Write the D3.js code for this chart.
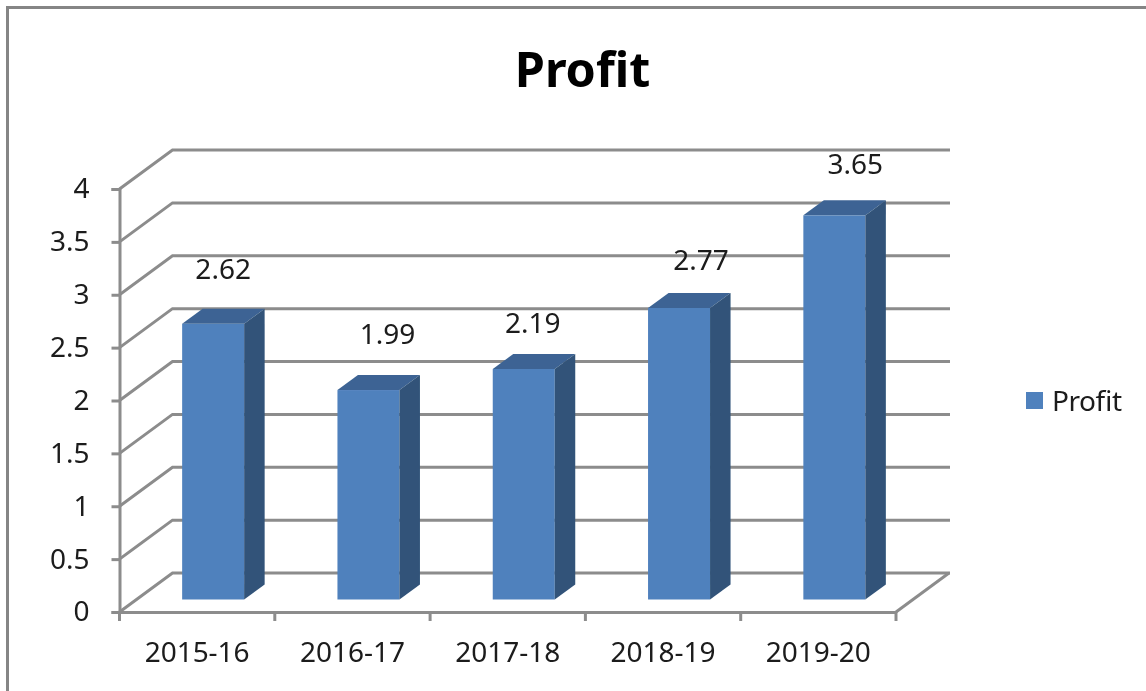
<!DOCTYPE html>
<html>
<head>
<meta charset="utf-8">
<script src="https://cdn.jsdelivr.net/npm/d3@7"></script>
<style>
  html, body { margin: 0; padding: 0; background: #fff; }
  text { font-family: "Noto Sans", sans-serif; fill: #1a1a1a; }
  .domain, .tick line { stroke: #8c8c8c; stroke-width: 3; }
</style>
</head>
<body>
<div id="chart"></div>
<script>
var years = ["2015-16", "2016-17", "2017-18", "2018-19", "2019-20"];
var profit = [2.62, 1.99, 2.19, 2.77, 3.65];
var yTicks = [0, 0.5, 1, 1.5, 2, 2.5, 3, 3.5, 4];
// data labels sit off the bars by hand in the original
var labelDx = [10, 19, 9, 22, 21];
var labelDy = [55, 56, 46, 48, 51];

var width = 1146, height = 691;
var left = 119.5, right = 896, bottom = 612, top_ = 189;
// depth of the 3d floor, and how far in the bars stand
var depth = { x: 53, y: 39 };
var barIn = { x: 16, y: 12.5 };
var barDepth = { x: 20.5, y: 15 };
var barWidth = 62;

var gridColor = "#8c8c8c";

var svg = d3.select("#chart").append("svg")
  .attr("width", width)
  .attr("height", height);

// screenshot frame
svg.append("path")
  .attr("d", "M7.5," + height + "V7.5H" + width)
  .attr("fill", "none")
  .attr("stroke", "#858585")
  .attr("stroke-width", 3);

var x = d3.scaleBand().domain(years).range([left, right]);
var y = d3.scaleLinear().domain([0, 4]).range([bottom, top_]);
// bars stand further back so their scale is a touch shorter than the axis
var barY = d3.scaleLinear().domain([0, 4]).range([bottom - barIn.y, top_ - barIn.y + 2]);

var plot = svg.append("g").attr("filter", "url(#soft)");
var defs = svg.append("defs");
defs.append("filter").attr("id", "soft")
  .append("feGaussianBlur").attr("stdDeviation", 0.45);

// walls: each gridline runs back then across
plot.append("g").selectAll("path")
  .data(yTicks)
  .enter().append("path")
  .attr("d", function (d) {
    return "M" + left + "," + y(d) +
      "L" + (left + depth.x) + "," + (y(d) - depth.y) +
      "H" + (right + depth.x + 1);
  })
  .attr("fill", "none")
  .attr("stroke", gridColor)
  .attr("stroke-width", 3);

// right edge of the floor
plot.append("path")
  .attr("d", "M" + right + "," + bottom + "L" + (right + depth.x) + "," + (bottom - depth.y))
  .attr("fill", "none")
  .attr("stroke", gridColor)
  .attr("stroke-width", 3);

// Axes
var yAxis = plot.append("g")
  .attr("transform", "translate(" + left + ",0)")
  .call(d3.axisLeft(y).tickValues(yTicks).tickFormat(d3.format("")).tickSize(8).tickPadding(22));
yAxis.selectAll("text").style("font-size", "28px");

var xAxis = plot.append("g")
  .attr("transform", "translate(0," + bottom + ")")
  .call(d3.axisBottom(x).tickSize(0).tickSizeOuter(0).tickPadding(30));
xAxis.selectAll("text").style("font-size", "28px").attr("textLength", 105);

// category ticks fall between the bands
xAxis.selectAll(".cat-tick")
  .data(d3.range(years.length + 1))
  .enter().append("line")
  .attr("class", "cat-tick")
  .attr("x1", function (i) { return left + i * x.step(); })
  .attr("x2", function (i) { return left + i * x.step(); })
  .attr("y1", 0)
  .attr("y2", 9)
  .attr("stroke", gridColor)
  .attr("stroke-width", 3);

// Bars
var rows = years.map(function (yr, i) {
  var x0 = x(yr) + x.bandwidth() / 2 + barIn.x - barWidth / 2;
  return {
    year: yr,
    value: profit[i],
    x0: x0,
    x1: x0 + barWidth,
    y0: barY(0),
    y1: barY(profit[i]),
    dx: labelDx[i],
    dy: labelDy[i]
  };
});

var bars = plot.append("g").selectAll("g")
  .data(rows)
  .enter().append("g");

bars.append("rect")
  .attr("x", function (d) { return d.x0; })
  .attr("y", function (d) { return d.y1; })
  .attr("width", barWidth)
  .attr("height", function (d) { return d.y0 - d.y1; })
  .attr("fill", "#4f81bd");

// top face
bars.append("path")
  .attr("d", function (d) {
    return "M" + d.x0 + "," + d.y1 +
      "L" + (d.x0 + barDepth.x) + "," + (d.y1 - barDepth.y) +
      "H" + (d.x1 + barDepth.x) +
      "L" + d.x1 + "," + d.y1 + "Z";
  })
  .attr("fill", "#3c6494");

// side face
bars.append("path")
  .attr("d", function (d) {
    return "M" + d.x1 + "," + d.y1 +
      "L" + (d.x1 + barDepth.x) + "," + (d.y1 - barDepth.y) +
      "V" + (d.y0 - barDepth.y) +
      "L" + d.x1 + "," + d.y0 + "Z";
  })
  .attr("fill", "#315379");

// data labels
plot.append("g").selectAll("text")
  .data(rows)
  .enter().append("text")
  .attr("x", function (d) { return (d.x0 + d.x1) / 2 + d.dx; })
  .attr("y", function (d) { return d.y1 - d.dy; })
  .attr("dy", "0.35em")
  .attr("text-anchor", "middle")
  .style("font-size", "28px")
  .text(function (d) { return d.value; });

// title
plot.append("text")
  .attr("x", 582.5)
  .attr("y", 87)
  .attr("text-anchor", "middle")
  .style("font-size", "48.5px")
  .style("font-weight", "bold")
  .style("fill", "#000")
  .text("Profit");

// legend
var legend = plot.append("g").attr("transform", "translate(1026,392)");
legend.append("rect")
  .attr("width", 17)
  .attr("height", 17)
  .attr("fill", "#4f81bd");
legend.append("text")
  .attr("x", 26)
  .attr("y", 9)
  .attr("dy", "0.35em")
  .attr("textLength", 70)
  .style("font-size", "28px")
  .text("Profit");
</script>
</body>
</html>
